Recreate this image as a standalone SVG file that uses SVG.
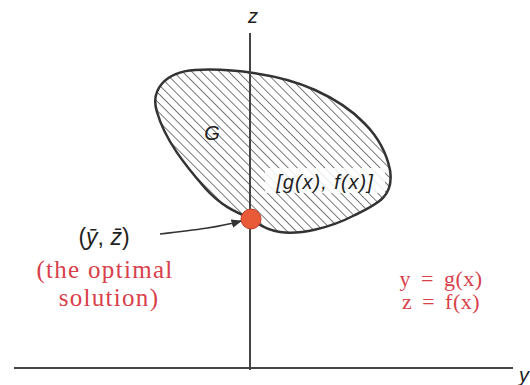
<svg xmlns="http://www.w3.org/2000/svg" width="530" height="385" viewBox="0 0 530 385">
<style>
.ax{stroke:#444;stroke-width:2;fill:none}
.lbl{font-family:"Liberation Sans",Arial,sans-serif;fill:#222}
.red{font-family:"Liberation Serif","Times New Roman",serif;fill:#d8404a}
</style>
<defs>
<pattern id="hatch" width="6.5" height="6.5" patternUnits="userSpaceOnUse" patternTransform="rotate(-45)">
<line x1="0" y1="0" x2="0" y2="6.5" stroke="#444" stroke-width="1.4"/>
</pattern>
<marker id="ah" viewBox="0 0 10 10" refX="9" refY="5" markerWidth="7" markerHeight="7" orient="auto">
<path d="M0,1 L10,5 L0,9 z" fill="#333"/>
</marker>
</defs>
<rect width="530" height="385" fill="#fff"/>
<g id="region">
<path d="M250,218 C235,212 220,205 205,188 C185,165 165,140 157,112 C150,90 165,72 195,70 C230,68 280,74 315,90 C355,108 383,135 390,170 C394,195 380,203 355,215 C330,228 300,235 280,232 C265,230 255,222 250,218 Z" fill="url(#hatch)" stroke="#333" stroke-width="2.5"/>
<text class="lbl" x="212" y="140" font-size="20" font-style="italic" text-anchor="middle">G</text>
<rect x="265" y="168" width="120" height="25" fill="#fff" opacity="0.85"/>
<text class="lbl" x="325" y="189" font-size="20" font-style="italic" text-anchor="middle" letter-spacing="1">[g(x), f(x)]</text>
</g>
<g id="axes">
<line class="ax" x1="250" y1="33" x2="250" y2="370"/>
<line class="ax" x1="14" y1="368" x2="513" y2="368"/>
<text class="lbl" x="253" y="23" font-size="20" font-style="italic" text-anchor="middle">z</text>
<text class="lbl" x="519" y="382" font-size="20" font-style="italic">y</text>
</g>
<g id="connectors">
<path d="M160,234 C195,230 220,227 241,221" fill="none" stroke="#333" stroke-width="1.5" marker-end="url(#ah)"/>
</g>
<g id="optimum">
<circle cx="251" cy="219" r="10" fill="#e85a38" stroke="#c0402a" stroke-width="1"/>
<text class="lbl" x="104" y="245" font-size="23" text-anchor="middle">(<tspan font-style="italic">ȳ</tspan>, <tspan font-style="italic">z̄</tspan>)</text>
<text class="red" x="105" y="278" font-size="25" text-anchor="middle" letter-spacing="1.3">(the optimal</text>
<text class="red" x="109" y="306" font-size="25" text-anchor="middle" letter-spacing="1.3">solution)</text>
</g>
<g id="equations">
<text class="red" x="441" y="286" font-size="22" text-anchor="middle" letter-spacing="0.5" word-spacing="4">y = g(x)</text>
<text class="red" x="441" y="309" font-size="22" text-anchor="middle" letter-spacing="0.5" word-spacing="4">z = f(x)</text>
</g>
</svg>
